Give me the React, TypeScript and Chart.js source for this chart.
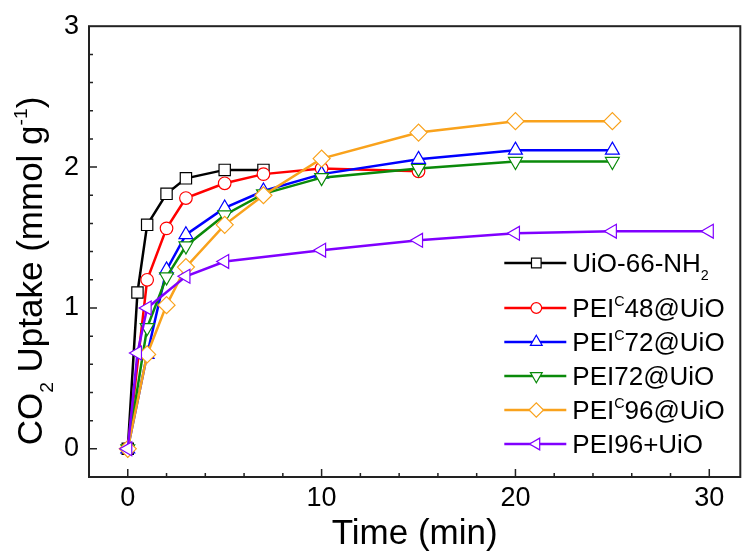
import React, { useEffect, useRef } from 'react';
import { Chart, registerables } from 'chart.js';
import { drawPoint } from 'chart.js/helpers';

Chart.register(...registerables);

const FONT = '"Liberation Sans", Arial, Helvetica, sans-serif';

// Series labels (^{..} superscript, _{..} subscript)
const SERIES_NAMES = [
  'UiO-66-NH_{2}',
  'PEI^{C}48@UiO',
  'PEI^{C}72@UiO',
  'PEI72@UiO',
  'PEI^{C}96@UiO',
  'PEI96+UiO',
];

// Time (min) and CO2 uptake (mmol/g)
const TIME_UIO = [0, 0.5, 1, 2, 3, 5, 7];
const UPTAKE_UIO = [0, 1.11, 1.59, 1.81, 1.92, 1.98, 1.98];

const TIME_C48 = [0, 1, 2, 3, 5, 7, 10, 15];
const UPTAKE_C48 = [0, 1.2, 1.565, 1.78, 1.885, 1.95, 1.99, 1.97];

const TIME_C72 = [0, 1, 2, 3, 5, 7, 10, 15, 20, 25];
const UPTAKE_C72 = [0, 0.67, 1.27, 1.52, 1.71, 1.83, 1.95, 2.055, 2.12, 2.12];

const TIME_72 = [0, 1, 2, 3, 5, 7, 10, 15, 20, 25];
const UPTAKE_72 = [0, 0.86, 1.22, 1.44, 1.66, 1.81, 1.925, 1.99, 2.04, 2.04];

const TIME_C96 = [0, 1, 2, 3, 5, 7, 10, 15, 20, 25];
const UPTAKE_C96 = [0, 0.67, 1.02, 1.29, 1.59, 1.8, 2.06, 2.245, 2.326, 2.326];

const TIME_96U = [0, 0.5, 1, 3, 5, 10, 15, 20, 25, 30];
const UPTAKE_96U = [0, 0.68, 1.0, 1.225, 1.33, 1.41, 1.48, 1.53, 1.545, 1.545];

const X_TICKS = [0, 10, 20, 30];
const Y_TICKS = [0, 1, 2, 3];
const X_MINOR_STEP = 2;
const Y_MINOR_STEP = 0.2;

const X_TITLE = 'Time (min)';
const Y_TITLE = 'CO_{2} Uptake (mmol g^{-1})';

const COLORS = ['#000000', '#ff0000', '#0000ff', '#0a8a0a', '#f9a21c', '#8000ff'];
const STYLES = ['rect', 'circle', 'triangle', 'triangle', 'rectRot', 'triangle'];
const ROTATIONS = [0, 0, 0, 180, 0, 270];
const RADII = [8, 6.3, 8, 8, 8.5, 8];

const TIMES = [TIME_UIO, TIME_C48, TIME_C72, TIME_72, TIME_C96, TIME_96U];
const VALUES = [UPTAKE_UIO, UPTAKE_C48, UPTAKE_C72, UPTAKE_72, UPTAKE_C96, UPTAKE_96U];

type Seg = { t: string; k: 'n' | 'sub' | 'sup' };

function parseRich(s: string): Seg[] {
  const segs: Seg[] = [];
  const re = /([_^])\{([^}]*)\}/g;
  let last = 0;
  let m: RegExpExecArray | null;
  while ((m = re.exec(s))) {
    if (m.index > last) segs.push({ t: s.slice(last, m.index), k: 'n' });
    segs.push({ t: m[2], k: m[1] === '_' ? 'sub' : 'sup' });
    last = re.lastIndex;
  }
  if (last < s.length) segs.push({ t: s.slice(last), k: 'n' });
  return segs;
}

const SMALL = 0.55;

function richWidth(ctx: CanvasRenderingContext2D, segs: Seg[], size: number) {
  let w = 0;
  for (const s of segs) {
    const fs = s.k === 'n' ? size : size * SMALL;
    ctx.font = `${fs}px ${FONT}`;
    w += ctx.measureText(s.t).width;
  }
  return w;
}

function drawRich(ctx: CanvasRenderingContext2D, segs: Seg[], x: number, y: number, size: number) {
  let cx = x;
  ctx.textBaseline = 'alphabetic';
  ctx.textAlign = 'left';
  for (const s of segs) {
    const fs = s.k === 'n' ? size : size * SMALL;
    ctx.font = `${fs}px ${FONT}`;
    const dy = s.k === 'sub' ? size * 0.3 : s.k === 'sup' ? -size * 0.42 : 0;
    ctx.fillText(s.t, cx, y + dy);
    cx += ctx.measureText(s.t).width;
  }
}

const decorPlugin = {
  id: 'decor',
  afterDraw(chart: any) {
    const ctx: CanvasRenderingContext2D = chart.ctx;
    const { left, right, top, bottom } = chart.chartArea;
    const xs = chart.scales.x;
    const ys = chart.scales.y;
    ctx.save();
    // ticks (inward)
    ctx.strokeStyle = '#222';
    ctx.lineWidth = 1.5;
    ctx.beginPath();
    const xMin = xs.min, xMax = xs.max;
    for (let v = Math.ceil(xMin / X_MINOR_STEP) * X_MINOR_STEP; v <= xMax + 1e-9; v += X_MINOR_STEP) {
      const px = xs.getPixelForValue(v);
      if (Math.abs(px - left) < 2 || Math.abs(px - right) < 2) continue;
      const major = X_TICKS.some((t) => Math.abs(t - v) < 1e-6);
      const len = major ? 8 : 4;
      ctx.moveTo(px, bottom);
      ctx.lineTo(px, bottom - len);
    }
    const yMin = ys.min, yMax = ys.max;
    for (let i = Math.ceil(yMin / Y_MINOR_STEP - 1e-6); i * Y_MINOR_STEP <= yMax + 1e-9; i++) {
      const v = i * Y_MINOR_STEP;
      const py = ys.getPixelForValue(v);
      if (Math.abs(py - bottom) < 2 || Math.abs(py - top) < 2) continue;
      const major = Y_TICKS.some((t) => Math.abs(t - v) < 1e-6);
      const len = major ? 8 : 4;
      ctx.moveTo(left, py);
      ctx.lineTo(left + len, py);
    }
    ctx.stroke();
    // frame
    ctx.lineWidth = 2;
    ctx.strokeStyle = '#222';
    ctx.strokeRect(left, top, right - left, bottom - top);

    // legend
    const legendRows = [263, 308, 342, 376, 410, 444];
    const lineX1 = right - 236;
    const lineX2 = right - 174;
    const markX = right - 204;
    const textX = right - 168;
    const lsize = 26;
    chart.data.datasets.forEach((ds: any, i: number) => {
      const y = legendRows[i];
      ctx.strokeStyle = COLORS[i];
      ctx.lineWidth = 2.5;
      ctx.beginPath();
      ctx.moveTo(lineX1, y);
      ctx.lineTo(lineX2, y);
      ctx.stroke();
      ctx.fillStyle = '#fff';
      ctx.strokeStyle = COLORS[i];
      ctx.lineWidth = 1.2;
      drawPoint(ctx, { pointStyle: STYLES[i], rotation: ROTATIONS[i], radius: RADII[i] * 0.85, borderWidth: 1.2 } as any, markX, y);
      ctx.fillStyle = '#000';
      drawRich(ctx, parseRich(SERIES_NAMES[i]), textX, y + lsize * 0.36, lsize);
    });

    // axis titles
    ctx.fillStyle = '#000';
    const xt = parseRich(X_TITLE);
    const xsz = 35;
    const xw = richWidth(ctx, xt, xsz);
    drawRich(ctx, xt, (left + right) / 2 - xw / 2, 544, xsz);

    const yt = parseRich(Y_TITLE);
    const ysz = 35;
    const yw = richWidth(ctx, yt, ysz);
    ctx.translate(42, 271);
    ctx.rotate(-Math.PI / 2);
    drawRich(ctx, yt, -yw / 2, 0, ysz);
    ctx.restore();
  },
};

export default function App() {
  const ref = useRef<HTMLCanvasElement>(null);
  useEffect(() => {
    const datasets = SERIES_NAMES.map((name, i) => ({
      label: name,
      data: TIMES[i].map((t, j) => ({ x: t, y: VALUES[i][j] })),
      showLine: true,
      borderColor: COLORS[i],
      backgroundColor: COLORS[i],
      borderWidth: 2.5,
      tension: 0,
      pointStyle: STYLES[i],
      pointRotation: ROTATIONS[i],
      pointRadius: RADII[i],
      pointBackgroundColor: '#ffffff',
      pointBorderColor: COLORS[i],
      pointBorderWidth: 1.2,
      order: SERIES_NAMES.length - i,
    }));
    const chart = new Chart(ref.current!, {
      type: 'scatter',
      data: { datasets } as any,
      options: {
        responsive: false,
        animation: false,
        devicePixelRatio: 1,
        layout: { padding: { top: 12, right: 8, left: 0, bottom: 0 } },
        plugins: { legend: { display: false }, tooltip: { enabled: false } },
        scales: {
          x: {
            type: 'linear',
            min: -2,
            max: 31.6,
            grid: { display: false, drawTicks: false },
            border: { display: false },
            ticks: { font: { family: FONT, size: 27 }, color: '#000', padding: 5, maxRotation: 0, autoSkip: false },
            afterBuildTicks: (s: any) => {
              s.ticks = X_TICKS.map((v) => ({ value: v }));
            },
            afterFit: (s: any) => {
              s.height = 82;
            },
          },
          y: {
            type: 'linear',
            min: -0.2,
            max: 3,
            grid: { display: false, drawTicks: false },
            border: { display: false },
            ticks: { font: { family: FONT, size: 27 }, color: '#000', padding: 10, autoSkip: false },
            afterBuildTicks: (s: any) => {
              s.ticks = Y_TICKS.map((v) => ({ value: v }));
            },
            afterFit: (s: any) => {
              s.width = 89;
            },
          },
        },
      } as any,
      plugins: [decorPlugin],
    });
    return () => chart.destroy();
  }, []);
  return (
    <div style={{ position: 'absolute', left: 0, top: 0, width: 750, height: 559, background: '#fff' }}>
      <canvas ref={ref} width={750} height={559} style={{ display: 'block' }} />
    </div>
  );
}
